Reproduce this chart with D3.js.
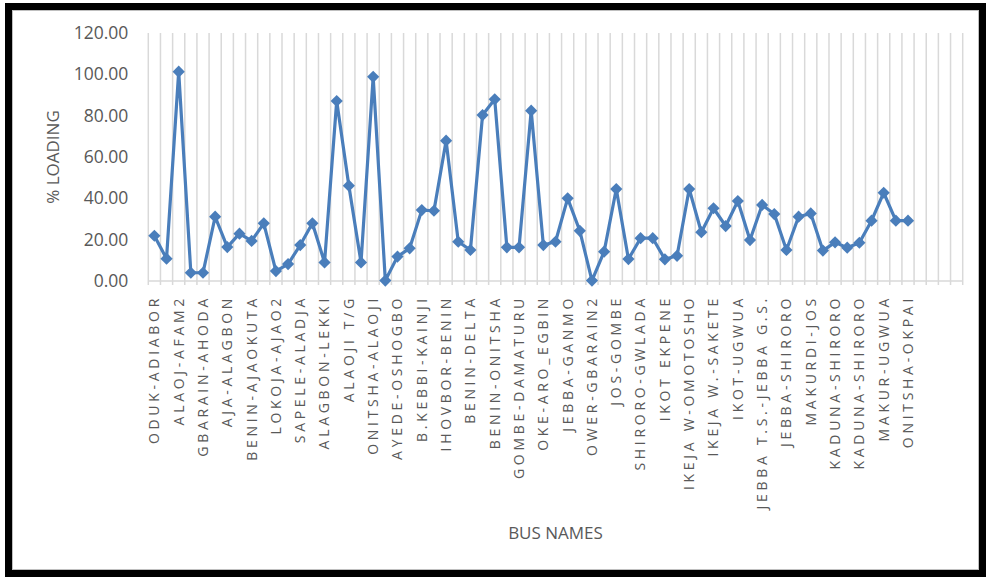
<!DOCTYPE html>
<html>
<head>
<meta charset="utf-8">
<script src="https://cdn.jsdelivr.net/npm/d3@7"></script>
<style>
  html, body { margin: 0; padding: 0; background: #fff; }
  svg { display: block; }
  text { font-family: "Open Sans", "Liberation Sans", sans-serif; fill: #595959; }
</style>
</head>
<body>
<svg id="chart" width="987" height="580"></svg>
<script>
// Bus names shown on the category axis (every second bus is labelled)
const busLabels = [
  "ODUK-ADIABOR", "ALAOJ-AFAM2", "GBARAIN-AHODA", "AJA-ALAGBON",
  "BENIN-AJAOKUTA", "LOKOJA-AJAO2", "SAPELE-ALADJA", "ALAGBON-LEKKI",
  "ALAOJI T/G", "ONITSHA-ALAOJI", "AYEDE-OSHOGBO", "B.KEBBI-KAINJI",
  "IHOVBOR-BENIN", "BENIN-DELTA", "BENIN-ONITSHA", "GOMBE-DAMATURU",
  "OKE-ARO_EGBIN", "JEBBA-GANMO", "OWER-GBARAIN2", "JOS-GOMBE",
  "SHIRORO-GWLADA", "IKOT EKPENE", "IKEJA W-OMOTOSHO", "IKEJA W.-SAKETE",
  "IKOT-UGWUA", "JEBBA T.S.-JEBBA G.S.", "JEBBA-SHIRORO", "MAKURDI-JOS",
  "KADUNA-SHIRORO", "KADUNA-SHIRORO", "MAKUR-UGWUA", "ONITSHA-OKPAI"
];

// % loading of each bus, in axis order
const loading = [
  21.9, 10.8, 101.3, 4.0, 4.0, 31.1, 16.4, 22.9, 19.4, 27.9,
  4.8, 8.2, 17.4, 27.9, 9.0, 87.1, 46.1, 9.0, 98.8, 0.2,
  11.8, 15.8, 34.3, 34.0, 67.9, 19.0, 15.0, 80.3, 87.9, 16.3,
  16.3, 82.4, 17.4, 19.0, 40.0, 24.3, 0.2, 14.2, 44.5, 10.6,
  20.7, 20.7, 10.5, 12.2, 44.5, 23.6, 35.2, 26.6, 38.7, 19.8,
  36.8, 32.4, 15.0, 31.1, 32.7, 14.7, 18.7, 16.1, 18.5, 29.2,
  42.7, 29.2, 29.2
];

// Category slots on the axis, including trailing empty rows
const slotCount = 67;
const yTicks = [0, 20, 40, 60, 80, 100, 120];

const svg = d3.select("#chart");
const plot = { left: 148.3, right: 962.7, top: 33, bottom: 281 };
const blue = "#4a7ebb";

// Outer frame
svg.append("rect")
  .attr("x", 8.5).attr("y", 6.5)
  .attr("width", 974).attr("height", 567)
  .attr("fill", "none").attr("stroke", "#000").attr("stroke-width", 7);
svg.append("rect")
  .attr("x", 12.5).attr("y", 10.5)
  .attr("width", 966).attr("height", 559)
  .attr("fill", "none").attr("stroke", "#bfbfbf").attr("stroke-width", 1);

const x = d3.scaleBand()
  .domain(d3.range(slotCount))
  .range([plot.left, plot.right])
  .padding(0);

const y = d3.scaleLinear()
  .domain([0, 120])
  .range([plot.bottom, plot.top]);

// Vertical gridlines on category boundaries
const bounds = d3.range(slotCount + 1).map(i => plot.left + i * x.step());
svg.append("g")
  .selectAll("line")
  .data(bounds)
  .join("line")
  .attr("x1", d => d).attr("x2", d => d)
  .attr("y1", plot.top).attr("y2", plot.bottom + 4)
  .attr("stroke", "#d9d9d9").attr("stroke-width", 1.5);

// Category axis line
svg.append("line")
  .attr("x1", plot.left).attr("x2", plot.right)
  .attr("y1", y(0)).attr("y2", y(0))
  .attr("stroke", "#d9d9d9").attr("stroke-width", 1.5);

// Value axis labels
const yAxis = svg.append("g")
  .attr("transform", `translate(${plot.left - 20},0)`)
  .call(d3.axisLeft(y).tickValues(yTicks).tickFormat(d3.format(".2f")).tickSize(0));
yAxis.select(".domain").remove();
yAxis.selectAll("text")
  .attr("x", 0)
  .style("font-family", '"Open Sans", sans-serif')
  .style("font-size", "17.5px")
  .style("fill", "#595959");

// Category labels (every second bus)
const xAxis = svg.append("g")
  .attr("transform", `translate(0,${plot.bottom})`)
  .call(d3.axisBottom(x)
    .tickValues(d3.range(0, busLabels.length * 2, 2))
    .tickFormat(i => busLabels[i / 2])
    .tickSize(0));
xAxis.select(".domain").remove();
xAxis.selectAll("text")
  .attr("transform", "rotate(-90)")
  .attr("x", -14).attr("y", 0)
  .attr("dy", "0.35em")
  .attr("text-anchor", "end")
  .style("font-family", '"Open Sans", sans-serif')
  .style("font-size", "14px")
  .style("letter-spacing", "3.7px")
  .style("fill", "#595959");

// Series line
const cx = i => x(i) + x.bandwidth() / 2;
svg.append("path")
  .datum(loading)
  .attr("fill", "none")
  .attr("stroke", blue)
  .attr("stroke-width", 3.2)
  .attr("stroke-linejoin", "round")
  .attr("d", d3.line().x((d, i) => cx(i)).y(d => y(d)));

// Diamond markers
const diamond = d3.symbol().type(d3.symbolDiamond2).size(95);
svg.append("g")
  .selectAll("path")
  .data(loading)
  .join("path")
  .attr("d", diamond)
  .attr("transform", (d, i) => `translate(${cx(i)},${y(d)})`)
  .attr("fill", blue);

// Axis titles
svg.append("text")
  .attr("transform", `translate(53,${(plot.top + plot.bottom) / 2}) rotate(-90)`)
  .attr("text-anchor", "middle")
  .attr("dy", "0.35em")
  .style("font-size", "17px")
  .text("% LOADING");

svg.append("text")
  .attr("x", (plot.left + plot.right) / 2)
  .attr("y", 533)
  .attr("text-anchor", "middle")
  .attr("dy", "0.35em")
  .style("font-size", "17px")
  .text("BUS NAMES");
</script>
</body>
</html>
